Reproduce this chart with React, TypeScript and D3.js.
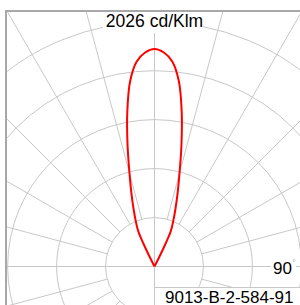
import React, { useRef, useEffect } from 'react'
import * as d3 from 'd3'

// luminous intensity (cd/klm) by angle from the beam axis, in degrees
const ANGLES = [-27, -26.5, -26, -25.5, -25, -24, -22.5, -20, -17.5, -15, -12.5, -10, -7.5, -5, -2.5, 0, 2.5, 5, 7.5, 10, 12.5, 15, 17.5, 20, 22.5, 24, 25, 25.5, 26, 26.5, 27]
const INTENSITY = [0, 120, 215, 290, 345, 395, 455, 570, 715, 900, 1160, 1460, 1740, 1915, 1995, 2026, 1995, 1915, 1740, 1460, 1160, 900, 715, 570, 455, 395, 345, 290, 215, 120, 0]

// grid rings (cd/klm) and spokes (degrees)
const RING_VALUES = [456, 912, 1368, 1824, 2280]
const SPOKES = [0, 15, 30, 45, 60, 75, 90, 105, 120, 135, 150, 165, 180, 195, 210, 225, 240, 255, 270, 285, 300, 315, 330, 345]

const TITLE = '2026 cd/Klm'
const ANGLE_LABEL = '90'
const CODE_LABEL = '9013-B-2-584-91'

const FONT = '"Liberation Sans", Arial, sans-serif'

const PolarChart: React.FC = () => {
  const svgRef = useRef<SVGSVGElement | null>(null)

  useEffect(() => {
    document.body.style.margin = '0'
    const svg = d3.select(svgRef.current)
    svg.selectAll('*').remove()

    const width = 300
    const height = 305
    const frame = { left: 6, top: 11 }
    const cx = 154.5
    const cy = 266.5

    // radial scale: peak value maps to the lobe tip
    const r = d3.scaleLinear().domain([0, 2026]).range([0, 217.5])
    const firstRing = r(RING_VALUES[0])

    svg.attr('width', width).attr('height', height)

    svg
      .append('defs')
      .append('clipPath')
      .attr('id', 'plot-clip')
      .append('rect')
      .attr('x', frame.left)
      .attr('y', frame.top)
      .attr('width', width - frame.left)
      .attr('height', height - frame.top)

    // clip on the outer group, translate the inner one
    const grid = svg
      .append('g')
      .attr('clip-path', 'url(#plot-clip)')
      .append('g')
      .attr('transform', `translate(${cx},${cy})`)

    // rings
    grid
      .selectAll('circle')
      .data(RING_VALUES)
      .enter()
      .append('circle')
      .attr('r', (d) => r(d))
      .attr('fill', 'none')
      .attr('stroke', '#c8c8c8')
      .attr('stroke-width', 1)

    // spokes, the axis ones start at the centre, the rest at the first ring
    grid
      .selectAll('line')
      .data(SPOKES)
      .enter()
      .append('line')
      .attr('x1', (d) => (d % 90 === 0 ? 0 : firstRing * Math.sin((d * Math.PI) / 180)))
      .attr('y1', (d) => (d % 90 === 0 ? 0 : -firstRing * Math.cos((d * Math.PI) / 180)))
      .attr('x2', (d) => 450 * Math.sin((d * Math.PI) / 180))
      .attr('y2', (d) => -450 * Math.cos((d * Math.PI) / 180))
      .attr('stroke', '#c8c8c8')
      .attr('stroke-width', 1)

    // intensity curve
    const line = d3
      .lineRadial<number>()
      .angle((_, i) => (ANGLES[i] * Math.PI) / 180)
      .radius((d) => r(d))
      .curve(d3.curveCatmullRom.alpha(0.5))

    grid
      .append('path')
      .datum(INTENSITY)
      .attr('d', line)
      .attr('fill', 'none')
      .attr('stroke', '#ff0000')
      .attr('stroke-width', 2)
      .attr('stroke-linejoin', 'round')

    // frame (top and left edges)
    svg
      .append('path')
      .attr('d', `M${frame.left},${height}V${frame.top}H${width}`)
      .attr('fill', 'none')
      .attr('stroke', '#a8a8a8')
      .attr('stroke-width', 2)

    // title with white background
    svg
      .append('rect')
      .attr('x', 103)
      .attr('y', frame.top + 1)
      .attr('width', 100)
      .attr('height', 21)
      .attr('fill', '#fff')
    svg
      .append('text')
      .attr('x', cx)
      .attr('y', 27)
      .attr('text-anchor', 'middle')
      .attr('font-family', FONT)
      .attr('font-size', 17.5)
      .attr('fill', '#000')
      .text(TITLE)

    // 90 degree label
    svg
      .append('rect')
      .attr('x', 271)
      .attr('y', 258)
      .attr('width', 25)
      .attr('height', 18)
      .attr('fill', '#fff')
    svg
      .append('text')
      .attr('x', 273)
      .attr('y', 273.5)
      .attr('font-family', FONT)
      .attr('font-size', 17)
      .attr('fill', '#000')
      .text(ANGLE_LABEL)
    svg
      .append('text')
      .attr('x', 292.5)
      .attr('y', 265)
      .attr('font-family', FONT)
      .attr('font-size', 8)
      .attr('fill', '#999')
      .text('°')

    // luminaire code box
    svg
      .append('rect')
      .attr('x', cx)
      .attr('y', 287.5)
      .attr('width', 200)
      .attr('height', 50)
      .attr('fill', '#fff')
      .attr('stroke', '#c8c8c8')
      .attr('stroke-width', 1)
    svg
      .append('text')
      .attr('x', 165)
      .attr('y', 303)
      .attr('font-family', FONT)
      .attr('font-size', 17)
      .attr('fill', '#000')
      .text(CODE_LABEL)
  }, [])

  return <svg ref={svgRef} style={{ display: 'block' }}></svg>
}

export default function App() {
  return <PolarChart />
}
